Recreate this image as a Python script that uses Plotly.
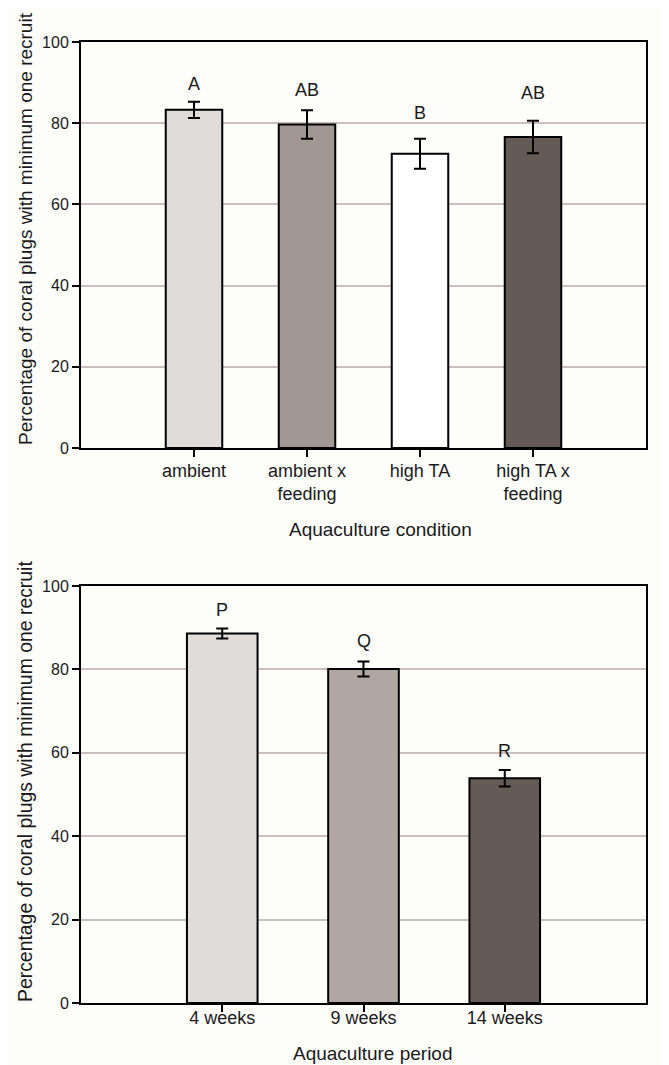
import plotly.graph_objects as go

# ---- data ----
cond_labels = ["ambient", "ambient x<br>feeding", "high TA", "high TA x<br>feeding"]
cond_values = [83.3, 79.7, 72.5, 76.6]
cond_err = [2.0, 3.5, 3.7, 4.0]
cond_letters = ["A", "AB", "B", "AB"]

period_labels = ["4 weeks", "9 weeks", "14 weeks"]
period_values = [88.6, 80.1, 53.9]
period_err = [1.2, 1.8, 2.0]
period_letters = ["P", "Q", "R"]

y_ticks = [0, 20, 40, 60, 80, 100]
y_title = "Percentage of coral plugs with minimum one recruit"
x_title_top = "Aquaculture condition"
x_title_bottom = "Aquaculture period"

# ---- styling ----
W, H = 669, 1065
OFF = 8  # default page body margin
FONT = "Liberation Sans, Arial, sans-serif"
BG = "#fdfdfa"
GRID = "#cbbfbb"
TXT = "#1a1a1a"
cond_colors = ["#e0dcd9", "#a19893", "#ffffff", "#645b56"]
period_colors = ["#e0dcd9", "#b0a7a3", "#645b57"]
cond_shift = [18, 20, 26, 28]
period_shift = [19, 20, 19]

def px(x):
    return (x - OFF) / W

def py(y):
    return 1 - (y - OFF) / H

fig = go.Figure()

x_top = list(range(1, len(cond_labels) + 1))
x_bot = list(range(1, len(period_labels) + 1))

fig.add_trace(go.Bar(
    x=x_top, y=cond_values, width=0.5,
    marker=dict(color=cond_colors, line=dict(color="black", width=2)),
    error_y=dict(type="data", array=cond_err, visible=True, color="black", thickness=2, width=6),
    xaxis="x", yaxis="y", showlegend=False, hoverinfo="skip"))

fig.add_trace(go.Bar(
    x=x_bot, y=period_values, width=0.5,
    marker=dict(color=period_colors, line=dict(color="black", width=2)),
    error_y=dict(type="data", array=period_err, visible=True, color="black", thickness=2, width=6),
    xaxis="x2", yaxis="y2", showlegend=False, hoverinfo="skip"))

common_x = dict(showline=True, linecolor="black", linewidth=2, mirror=True,
                ticks="outside", ticklen=7, tickwidth=2, tickcolor="black",
                showgrid=False, zeroline=False, automargin=False,
                tickfont=dict(family=FONT, size=18, color=TXT))
common_y = dict(showline=True, linecolor="black", linewidth=2, mirror=True,
                ticks="outside", ticklen=7, tickwidth=2, tickcolor="black",
                showgrid=True, gridcolor=GRID, gridwidth=2, zeroline=False,
                automargin=False, range=[0, 100], tickvals=y_ticks,
                tickfont=dict(family=FONT, size=16, color=TXT))

fig.update_layout(
    template="none",
    width=W, height=H, margin=dict(l=0, r=0, t=0, b=0, autoexpand=False),
    paper_bgcolor=BG, plot_bgcolor=BG,
    xaxis=dict(domain=[px(81), px(646)], anchor="y", range=[0, len(cond_labels) + 1],
               tickvals=x_top, ticktext=cond_labels, ticklabelstandoff=-2, **common_x),
    yaxis=dict(domain=[py(448), py(42)], anchor="x", **common_y),
    xaxis2=dict(domain=[px(81), px(646)], anchor="y2", range=[0, len(period_labels) + 1],
                tickvals=x_bot, ticktext=period_labels, ticklabelstandoff=-10, **common_x),
    yaxis2=dict(domain=[py(1003), py(586)], anchor="x2", **common_y),
)

ann = []
for i, (v, e, t) in enumerate(zip(cond_values, cond_err, cond_letters)):
    ann.append(dict(x=x_top[i], y=v + e, xref="x", yref="y", text=t, showarrow=False,
                    yanchor="middle", yshift=cond_shift[i],
                    font=dict(family=FONT, size=18, color=TXT)))
for i, (v, e, t) in enumerate(zip(period_values, period_err, period_letters)):
    ann.append(dict(x=x_bot[i], y=v + e, xref="x2", yref="y2", text=t, showarrow=False,
                    yanchor="middle", yshift=period_shift[i],
                    font=dict(family=FONT, size=18, color=TXT)))

ann.append(dict(x=px(25), y=py(229), xref="paper", yref="paper", text=y_title,
                textangle=-90, showarrow=False, xanchor="center", yanchor="middle",
                font=dict(family=FONT, size=19, color=TXT)))
ann.append(dict(x=px(25), y=py(782), xref="paper", yref="paper", text=y_title,
                textangle=-90, showarrow=False, xanchor="center", yanchor="middle",
                font=dict(family=FONT, size=19.4, color=TXT)))
ann.append(dict(x=px(380), y=py(529), xref="paper", yref="paper", text=x_title_top,
                showarrow=False, xanchor="center", yanchor="middle",
                font=dict(family=FONT, size=19, color=TXT)))
ann.append(dict(x=px(373), y=py(1053), xref="paper", yref="paper", text=x_title_bottom,
                showarrow=False, xanchor="center", yanchor="middle",
                font=dict(family=FONT, size=19, color=TXT)))

fig.update_layout(annotations=ann)
fig.write_html("out.html")
